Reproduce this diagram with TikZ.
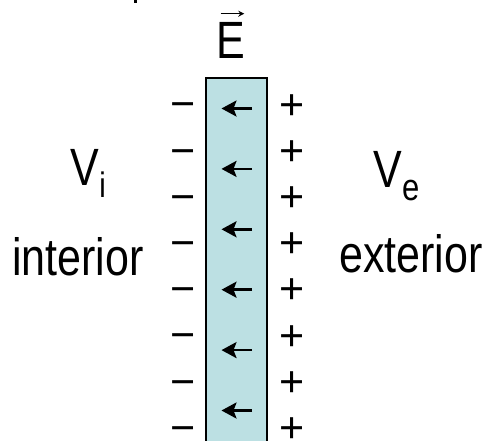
\documentclass[tikz,border=0pt]{standalone}
\usepackage{fontspec}
\setmainfont{Liberation Sans}
\usetikzlibrary{arrows.meta}
\definecolor{membrana}{RGB}{188,224,227}
\newcommand{\estirar}[1]{\scalebox{1}[1.22]{#1}}
\tikzset{
  texto/.style={inner sep=0pt, anchor=base west, font=\fontsize{43}{50}\selectfont},
  carga/.style={inner sep=0pt, anchor=base, font=\fontsize{43}{50}\selectfont},
  campo/.style={-{Stealth[length=15pt,width=16pt,inset=3pt]}, line width=2.6pt},
  vector/.style={-{Stealth[length=6pt,width=6pt]}, line width=1.2pt},
}
\begin{document}
\begin{tikzpicture}[x=1pt,y=-1pt]
    \useasboundingbox (0,0) rectangle (485,440);
    \fill (133.5,0) rectangle (136.5,3);
    % membrana
    \begin{scope}
        \clip (0,0) rectangle (485,440);
        \draw[line width=1.8pt, fill=membrana] (205.7,77.7) rectangle (266.7,460);
    \end{scope}
    \foreach \k in {0,...,5} {
        \draw[campo] (252,{108.5+60.4*\k}) -- (221.5,{108.5+60.4*\k});
    }
    % cargas
    \foreach \k in {0,...,7} {
        \node[carga] (menos\k) at (183,{103.3+46.2*\k+15.6}) {−};
        \node[carga] (mas\k) at (292.3,{104+46.1*\k+15.5}) {+};
    }
    % textos
    \node[texto] (E) at (216.7,58) {\estirar{E}};
    \draw[vector] ([xshift=4pt,yshift=8pt]E.north west) -- ([xshift=-1.5pt,yshift=8pt]E.north east);
    \node[texto] (Vi) at (70.5,185) {\estirar{V\raisebox{-10.5pt}{\fontsize{29}{30}\selectfont i}}};
    \node[texto] (Ve) at (373.5,187) {\estirar{V\raisebox{-11pt}{\fontsize{31}{30}\selectfont e}}};
    \node[texto] (interior) at (12,275) {\estirar{interior}};
    \node[texto] (exterior) at (339,272.5) {\estirar{exterior}};
\end{tikzpicture}
\end{document}
